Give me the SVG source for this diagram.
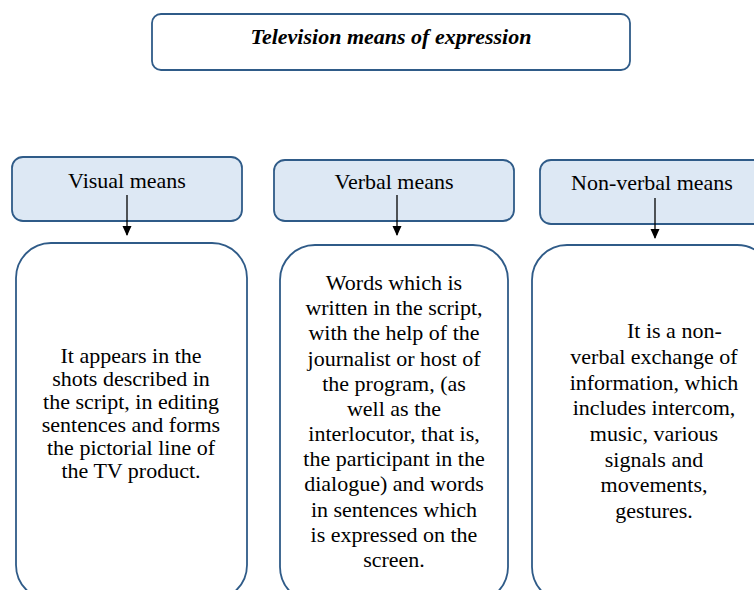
<svg xmlns="http://www.w3.org/2000/svg" width="754" height="590" viewBox="0 0 754 590">
<defs>
<style>
.box{fill:#ffffff;stroke:#2f5b88;stroke-width:1.8}
.hdr{fill:#dde8f4;stroke:#2f5b88;stroke-width:1.8}
.t{font-family:"Liberation Serif","Times New Roman",serif;font-size:22px;fill:#000;text-anchor:middle}
.title{font-weight:bold;font-style:italic}
.conn{stroke:#000;stroke-width:1.3;fill:none}
</style>
<marker id="ah" markerWidth="10" markerHeight="11" refX="9" refY="5" orient="auto" markerUnits="userSpaceOnUse">
<path d="M0,0.5 L10,5 L0,9.5 Z" fill="#000"/>
</marker>
</defs>
<rect width="754" height="590" fill="#ffffff"/>
<g id="title">
<rect class="box" x="152" y="14" width="478" height="56" rx="9"/>
<text class="t title" x="391" y="44">Television means of expression</text>
</g>
<g id="visual-header">
<rect class="hdr" x="12" y="157" width="230" height="64" rx="11"/>
<text class="t" x="127" y="188">Visual means</text>
</g>
<g id="verbal-header">
<rect class="hdr" x="274" y="160" width="240" height="61" rx="11"/>
<text class="t" x="394" y="189">Verbal means</text>
</g>
<g id="nonverbal-header">
<rect class="hdr" x="540" y="160" width="240" height="64" rx="11"/>
<text class="t" x="652" y="190">Non-verbal means</text>
</g>
<g id="visual-body">
<rect class="box" x="16" y="243" width="231" height="357" rx="35"/>
<text class="t" x="131" y="363">It appears in the</text>
<text class="t" x="131" y="386">shots described in</text>
<text class="t" x="131" y="409">the script, in editing</text>
<text class="t" x="131" y="432">sentences and forms</text>
<text class="t" x="131" y="455">the pictorial line of</text>
<text class="t" x="131" y="478">the TV product.</text>
</g>
<g id="verbal-body">
<rect class="box" x="280" y="245" width="228" height="357" rx="35"/>
<text class="t" x="394" y="290">Words which is</text>
<text class="t" x="394" y="315">written in the script,</text>
<text class="t" x="394" y="340">with the help of the</text>
<text class="t" x="394" y="366">journalist or host of</text>
<text class="t" x="394" y="391">the program, (as</text>
<text class="t" x="394" y="416">well as the</text>
<text class="t" x="394" y="441">interlocutor, that is,</text>
<text class="t" x="394" y="466">the participant in the</text>
<text class="t" x="394" y="491">dialogue) and words</text>
<text class="t" x="394" y="517">in sentences which</text>
<text class="t" x="394" y="542">is expressed on the</text>
<text class="t" x="394" y="567">screen.</text>
</g>
<g id="nonverbal-body">
<rect class="box" x="532" y="245" width="240" height="357" rx="35"/>
<text class="t" x="627" y="338" style="text-anchor:start">It is a non-</text>
<text class="t" x="654" y="364">verbal exchange of</text>
<text class="t" x="654" y="390">information, which</text>
<text class="t" x="654" y="415">includes intercom,</text>
<text class="t" x="654" y="441">music, various</text>
<text class="t" x="654" y="467">signals and</text>
<text class="t" x="654" y="492">movements,</text>
<text class="t" x="654" y="518">gestures.</text>
</g>
<g id="connectors">
<line class="conn" x1="127" y1="195" x2="127" y2="235" marker-end="url(#ah)"/>
<line class="conn" x1="397" y1="195" x2="397" y2="235" marker-end="url(#ah)"/>
<line class="conn" x1="655" y1="198" x2="655" y2="238" marker-end="url(#ah)"/>
</g>
</svg>
